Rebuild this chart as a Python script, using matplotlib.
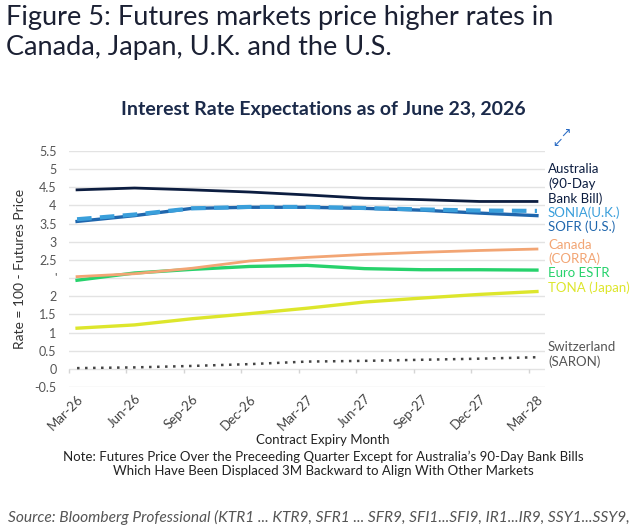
import matplotlib
matplotlib.use("Agg")
import matplotlib.pyplot as plt

plt.rcParams['font.family'] = ['Lato', 'DejaVu Sans']

months = ["Mar-26", "Jun-26", "Sep-26", "Dec-26", "Mar-27", "Jun-27", "Sep-27", "Dec-27", "Mar-28"]

australia = [4.93, 4.98, 4.93, 4.87, 4.79, 4.70, 4.66, 4.61, 4.61]
sonia = [4.12, 4.25, 4.42, 4.46, 4.46, 4.43, 4.39, 4.36, 4.35]
sofr = [4.06, 4.22, 4.42, 4.45, 4.45, 4.42, 4.37, 4.29, 4.22]
canada = [2.54, 2.62, 2.77, 2.97, 3.07, 3.15, 3.21, 3.26, 3.30]
estr = [2.44, 2.64, 2.74, 2.82, 2.85, 2.76, 2.73, 2.73, 2.72]
tona = [1.12, 1.21, 1.38, 1.52, 1.67, 1.84, 1.95, 2.05, 2.13]
saron = [0.02, 0.04, 0.08, 0.13, 0.20, 0.22, 0.25, 0.28, 0.32]

ytick_pos = [-0.5, 0, 0.5, 1, 1.5, 2, 2.5, 3, 3.5, 4, 4.5, 5, 5.5, 6]
ytick_labels = ["-0.5", "0", "0.5", "1", "1.5", "2", "'", "2.5", "3", "3.5", "4", "4.5", "5", "5.5"]

W, H = 640, 527
fig = plt.figure(figsize=(W / 100, H / 100), dpi=100)

def fx(px):
    return px / W

def fy(py):
    return 1 - py / H

ax = fig.add_axes([fx(69), fy(387), fx(545) - fx(69), fy(151) - fy(387)])

x = list(range(len(months)))
ax.plot(x, australia, color="#0c1d40", lw=2.0, zorder=5)
ax.plot(x, sofr, color="#1f66ad", lw=2.4, zorder=5)
ax.plot(x, sonia, color="#3a9fdb", lw=3.0, ls=(0, (3.5, 2)), zorder=6)
ax.plot(x, canada, color="#f2a574", lw=2.0, zorder=5)
ax.plot(x, estr, color="#27d26c", lw=2.4, zorder=4)
ax.plot(x, tona, color="#dde62c", lw=2.4, zorder=5)
ax.plot(x, saron, color="#444444", lw=1.8, ls=(0, (1, 2.2)), zorder=5)

ax.set_xlim(-0.14, 8.14)
ax.set_ylim(-0.5, 6.0)
ax.set_yticks(ytick_pos)
ax.set_yticklabels(ytick_labels)
ax.yaxis.grid(True, color="#e3e3e3", lw=1.0)
ax.set_axisbelow(True)
for s in ax.spines.values():
    s.set_visible(False)
ax.tick_params(axis='y', length=0, pad=9, labelsize=9, labelcolor="#555555")
ax.set_xticks(x)
ax.set_xticklabels(months, rotation=45, ha='right', va='top', rotation_mode='anchor')
ax.tick_params(axis='x', length=0, pad=4, labelsize=9.5, labelcolor="#444444")

# category boundary tick marks hanging from the zero line
ax.vlines([k - 0.14 for k in x], 0, -0.12, color="#d5d5d5", lw=1.0, clip_on=False)

ax.set_ylabel("Rate = 100 - Futures Price", fontsize=10, color="#333333", labelpad=6)

# right-side labels
lab = dict(fontsize=9.5, va='center', ha='left', transform=fig.transFigure)
fig.text(fx(548), fy(169), "Australia", color="#0c1d40", **lab)
fig.text(fx(548), fy(184), "(90-Day", color="#0c1d40", **lab)
fig.text(fx(548), fy(199), "Bank Bill)", color="#0c1d40", **lab)
fig.text(fx(548), fy(213), "SONIA(U.K.)", color="#3a9fdb", **lab)
fig.text(fx(548), fy(227), "SOFR (U.S.)", color="#1f66ad", **lab)
fig.text(fx(548), fy(245), "Canada", color="#f2a574", **lab)
fig.text(fx(548), fy(259), "(CORRA)", color="#f2a574", **lab)
fig.text(fx(548), fy(273), "Euro ESTR", color="#27d26c", **lab)
fig.text(fx(548), fy(288), "TONA (Japan)", color="#dde62c", **lab)
fig.text(fx(548), fy(347), "Switzerland", color="#555555", **lab)
fig.text(fx(548), fy(362), "(SARON)", color="#555555", **lab)

# titles
fig.text(fx(6), fy(17), "Figure 5: Futures markets price higher rates in", fontsize=19.5,
         color="#1b2033", va='center', ha='left')
fig.text(fx(6), fy(47), "Canada, Japan, U.K. and the U.S.", fontsize=19.5,
         color="#1b2033", va='center', ha='left')
fig.text(fx(323), fy(110), "Interest Rate Expectations as of June 23, 2026", fontsize=14,
         color="#1b2a4a", va='center', ha='center', fontweight='bold')

# expand icon
fig.text(fx(565), fy(133), "\u2197", fontsize=9, color="#2b6cc4", va='center', ha='center',
         family=['DejaVu Sans'])
fig.text(fx(557), fy(143), "\u2199", fontsize=9, color="#2b6cc4", va='center', ha='center',
         family=['DejaVu Sans'])

fig.text(fx(323), fy(440), "Contract Expiry Month", fontsize=9.5, color="#222222", ha='center', va='center')
fig.text(fx(323), fy(457), "Note: Futures Price Over the Preceeding Quarter Except for Australia\u2019s 90-Day Bank Bills",
         fontsize=9.5, color="#222222", ha='center', va='center')
fig.text(fx(323), fy(471), "Which Have Been Displaced 3M Backward to Align With Other Markets",
         fontsize=9.5, color="#222222", ha='center', va='center')

fig.text(fx(8), fy(517), "Source: Bloomberg Professional (KTR1 ... KTR9, SFR1 ... SFR9, SFI1...SFI9, IR1...IR9, SSY1...SSY9,",
         fontsize=11.2, color="#555555", ha='left', va='center', style='italic')

fig.savefig("out.png", dpi=100)
